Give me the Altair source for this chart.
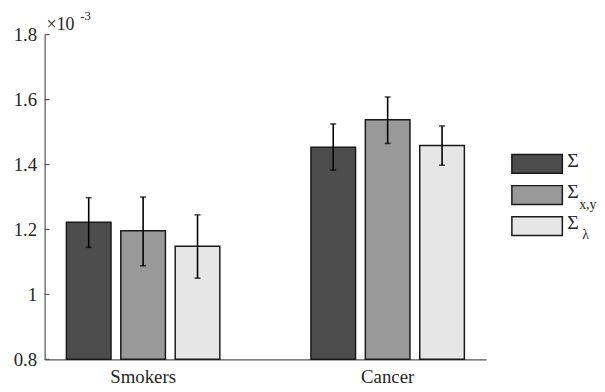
import altair as alt
import pandas as pd

# ---- data (values in units of 1e-3) ----
groups = ["Smokers", "Cancer"]
series = ["Σ", "Σ_x,y", "Σ_λ"]
legend_symbols = ["Σ", "Σ", "Σ"]
legend_subs = ["", "x,y", "λ"]
colors = ["#4d4d4d", "#999999", "#e6e6e6"]

smokers_mean = [1.222, 1.196, 1.148]
smokers_lo = [1.145, 1.088, 1.050]
smokers_hi = [1.298, 1.300, 1.245]

cancer_mean = [1.453, 1.538, 1.459]
cancer_lo = [1.383, 1.465, 1.398]
cancer_hi = [1.525, 1.608, 1.519]

y_ticks = [0.8, 1.0, 1.2, 1.4, 1.6, 1.8]
y_min, y_max = 0.8, 1.8

rows = []
for g, means, los, his in [("Smokers", smokers_mean, smokers_lo, smokers_hi),
                           ("Cancer", cancer_mean, cancer_lo, cancer_hi)]:
    for s, m, lo, hi in zip(series, means, los, his):
        rows.append({"group": g, "series": s, "value": m, "lo": lo, "hi": hi,
                     "base": y_min})
df = pd.DataFrame(rows)

FONT = "Times New Roman, Liberation Serif, Tinos, DejaVu Serif, Noto Serif, FreeSerif, Nimbus Roman, serif"
TXT = "#262626"
NOVIEW = alt.ViewBackground(strokeOpacity=0, strokeWidth=0, fillOpacity=0)

xenc = alt.X("group:N", sort=groups, title=None,
             scale=alt.Scale(paddingInner=0.3725, paddingOuter=0.089),
             axis=alt.Axis(labelAngle=0, ticks=False, labelPadding=8,
                           labelFont=FONT, labelFontSize=19, labelColor=TXT,
                           domainColor="#555555", domainWidth=1.2))
xoff = alt.XOffset("series:N", sort=series,
                   scale=alt.Scale(paddingInner=0.18, paddingOuter=0))
yscale = alt.Scale(domain=[y_min, y_max], nice=False, zero=False)
color = alt.Color("series:N", scale=alt.Scale(domain=series, range=colors), legend=None)

base = alt.Chart(df)

bars = base.mark_bar(stroke="#1a1a1a", strokeWidth=1.5).encode(
    x=xenc, xOffset=xoff,
    y=alt.Y("value:Q", scale=yscale, title=None,
            axis=alt.Axis(values=y_ticks, format="~g", ticks=False, grid=False,
                          labelPadding=8, labelFont=FONT, labelFontSize=19,
                          labelColor=TXT, domainColor="#555555", domainWidth=1.2)),
    y2="base:Q",
    color=color,
)

err = base.mark_rule(color="black", strokeWidth=1.6).encode(
    x=alt.X("group:N", sort=groups), xOffset=xoff,
    y=alt.Y("lo:Q", scale=yscale), y2="hi:Q",
)
cap_lo = base.mark_tick(color="black", size=6, thickness=1.6).encode(
    x=alt.X("group:N", sort=groups), xOffset=xoff,
    y=alt.Y("lo:Q", scale=yscale),
)
cap_hi = base.mark_tick(color="black", size=6, thickness=1.6).encode(
    x=alt.X("group:N", sort=groups), xOffset=xoff,
    y=alt.Y("hi:Q", scale=yscale),
)

tick_df = pd.DataFrame({"t": y_ticks})
inner_ticks = alt.Chart(tick_df).mark_rule(color="#555555", strokeWidth=1.2).encode(
    y=alt.Y("t:Q", scale=yscale),
    x=alt.value(0), x2=alt.value(5),
)

exp_main = alt.Chart(pd.DataFrame({"t": ["×10"]})).mark_text(
    align="left", baseline="middle", font=FONT, fontSize=18, color=TXT
).encode(text="t:N", x=alt.value(2), y=alt.value(-10))
exp_sup = alt.Chart(pd.DataFrame({"t": ["-3"]})).mark_text(
    align="left", baseline="middle", font=FONT, fontSize=13, color=TXT
).encode(text="t:N", x=alt.value(36), y=alt.value(-19))

main = alt.layer(bars, err, cap_lo, cap_hi, inner_ticks, exp_main, exp_sup).properties(
    width=446, height=328, view=NOVIEW
)

# ---- custom legend with subscripts ----
leg_df = pd.DataFrame({"series": series, "sym": legend_symbols, "sub": legend_subs})
leg_y = alt.Y("series:N", sort=series, axis=None,
              scale=alt.Scale(range=[121, 203], paddingInner=0.397, paddingOuter=0))
leg_base = alt.Chart(leg_df)
leg_rect = leg_base.mark_rect(stroke="#1a1a1a", strokeWidth=1.5).encode(
    x=alt.value(0), x2=alt.value(51), y=leg_y, color=color,
)
leg_sym = leg_base.mark_text(align="left", baseline="middle", font=FONT,
                             fontSize=20, color=TXT, dy=-3).encode(
    x=alt.value(56), y=leg_y, text="sym:N",
)
leg_sub_xy = leg_base.transform_filter(alt.datum.sub == "x,y").mark_text(
    align="left", baseline="middle", font=FONT, fontSize=14, color=TXT, dy=10
).encode(x=alt.value(68), y=leg_y, text="sub:N")
leg_sub_l = leg_base.transform_filter(alt.datum.sub == "λ").mark_text(
    align="left", baseline="middle", font=FONT, fontSize=14, color=TXT, dy=9
).encode(x=alt.value(71), y=leg_y, text="sub:N")

legend = alt.layer(leg_rect, leg_sym, leg_sub_xy, leg_sub_l).properties(
    width=51, height=328, view=NOVIEW
)

chart = alt.hconcat(main, legend, spacing=26, bounds="flush").resolve_scale(
    x="independent", y="independent"
).properties(
    padding={"left": 5, "top": 0, "right": 0, "bottom": 0}
).configure_view(strokeOpacity=0, strokeWidth=0).configure(background="white")

chart.save("out.html", embed_options={"renderer": "svg", "actions": False})
